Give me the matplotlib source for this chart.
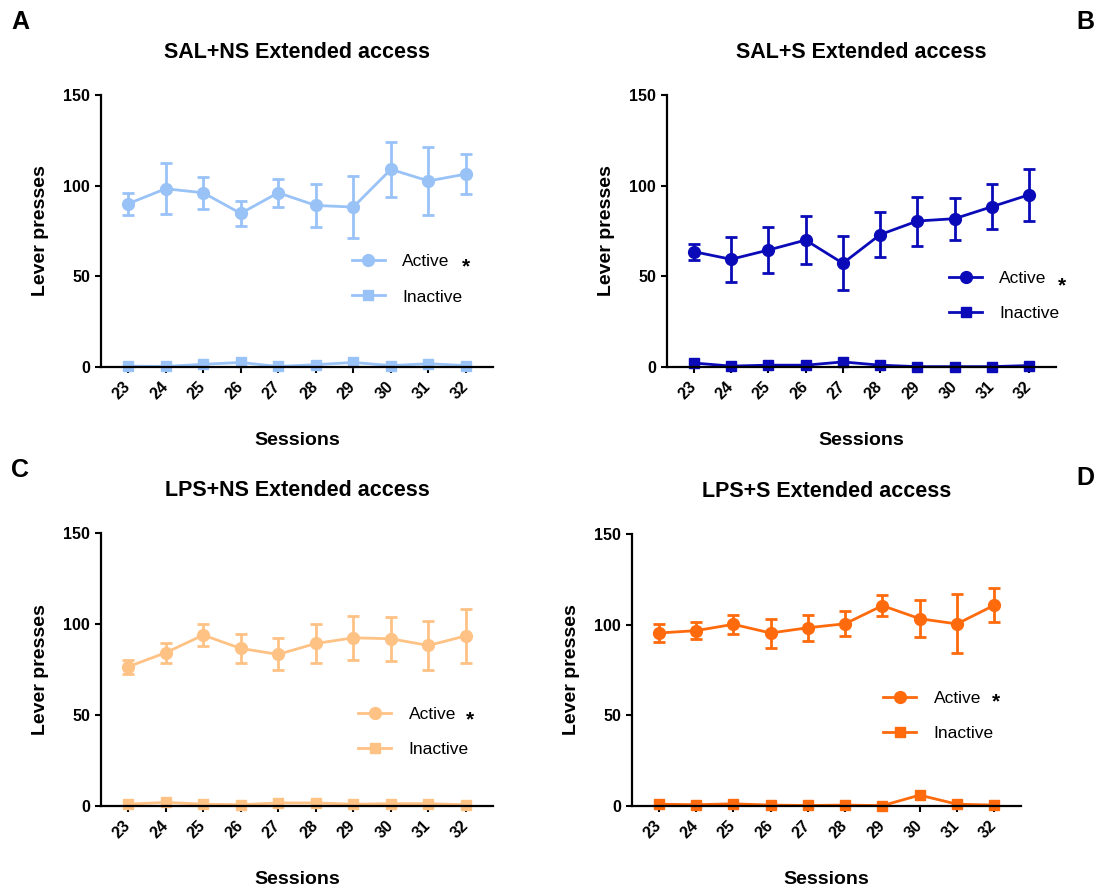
import numpy as np
import matplotlib
matplotlib.use("Agg")
import matplotlib.pyplot as plt

plt.rcParams['font.family'] = ['Liberation Sans', 'DejaVu Sans']

sessions = [23, 24, 25, 26, 27, 28, 29, 30, 31, 32]

# panel A: SAL+NS
a_active = [90, 98.3, 96.1, 84.7, 96.1, 89.1, 88.2, 109, 102.6, 106.4]
a_active_err = [6, 14, 8.7, 7, 7.6, 12, 17, 15.2, 18.7, 10.8]
a_inactive = [0.5, 0.3, 1.5, 2.5, 0.3, 1.3, 2.5, 0.8, 1.8, 0.8]

# panel B: SAL+S
b_active = [63.6, 59.4, 64.5, 70, 57.2, 73, 80.5, 81.8, 88.4, 95]
b_active_err = [4.4, 12.3, 12.5, 13.4, 15, 12.5, 13.5, 11.6, 12.4, 14.3]
b_inactive = [2.2, 0.5, 1, 1, 2.8, 1, 0.2, 0.2, 0.2, 0.8]

# panel C: LPS+NS
c_active = [76.5, 84.2, 93.9, 86.6, 83.3, 89.3, 92.4, 91.9, 88.2, 93.5]
c_active_err = [3.8, 5.5, 6, 7.9, 8.8, 10.7, 12, 12, 13.6, 15]
c_inactive = [1, 2, 1, 0.7, 1.7, 1.7, 1, 1.3, 1.3, 0.7]

# panel D: LPS+S
d_active = [95.4, 96.7, 100.2, 95.4, 98.3, 100.5, 110.5, 103.3, 100.4, 110.7]
d_active_err = [5, 4.5, 5.1, 8, 7.3, 7, 5.9, 10.2, 16.3, 9.5]
d_inactive = [1, 0.7, 1.2, 0.5, 0.3, 0.5, 0.2, 6, 1, 0.5]

titles = ['SAL+NS Extended access', 'SAL+S Extended access',
          'LPS+NS Extended access', 'LPS+S Extended access']
letters = ['A', 'B', 'C', 'D']
colors = ['#99c2f7', '#0a0ab8', '#ffc285', '#ff6a0d']

W, H = 1104, 892
fig = plt.figure(figsize=(W / 100, H / 100), dpi=100)


def px_axes(x0, x1, y0, y1):
    return fig.add_axes([x0 / W, 1 - y1 / H, (x1 - x0) / W, (y1 - y0) / H])


axes = [px_axes(101, 493, 95, 367), px_axes(667, 1056, 95, 367),
        px_axes(101, 493, 533, 806), px_axes(632, 1021, 534, 806)]

data = [(a_active, a_active_err, a_inactive), (b_active, b_active_err, b_inactive),
        (c_active, c_active_err, c_inactive), (d_active, d_active_err, d_inactive)]

# legend spots (axes coords): handle left x, middle y, asterisk x, asterisk y
leg_pos = [(0.64, 0.322, 0.93, 0.369), (0.725, 0.262, 1.015, 0.299),
           (0.656, 0.272, 0.94, 0.315), (0.646, 0.332, 0.936, 0.382)]

for ax, (act, err, inact), col, title, lp in zip(axes, data, colors, titles, leg_pos):
    eb = ax.errorbar(sessions, act, yerr=err, color=col, marker='o', markersize=8.5,
                     lw=2, elinewidth=2, capsize=4.5, capthick=2, clip_on=False, zorder=3)
    inl, = ax.plot(sessions, inact, color=col, marker='s', markersize=7.5, lw=2,
                   clip_on=False, zorder=2)
    ax.set_xlim(22.28, 32.72)
    ax.set_ylim(0, 150)
    ax.set_yticks([0, 50, 100, 150])
    ax.set_xticks(sessions)
    ax.set_xticklabels([str(s) for s in sessions], rotation=45, ha='right',
                       va='center', rotation_mode='anchor')
    for sp in ['top', 'right']:
        ax.spines[sp].set_visible(False)
    for sp in ['left', 'bottom']:
        ax.spines[sp].set_linewidth(1.6)
    ax.tick_params(width=1.5, length=4.5, labelsize=11.5, direction='out')
    ax.tick_params(axis='x', pad=8)
    for lab in ax.get_xticklabels() + ax.get_yticklabels():
        lab.set_fontweight('bold')
    ax.set_ylabel('Lever presses', fontsize=14, fontweight='bold', labelpad=10)
    ax.set_xlabel('Sessions', fontsize=14, fontweight='bold', labelpad=21)
    ax.set_title(title, fontsize=15.5, fontweight='bold', pad=27)
    ax.legend([eb.lines[0], inl], ['Active', 'Inactive'], loc='center left',
              bbox_to_anchor=(lp[0], lp[1]), frameon=False, fontsize=12.5,
              handlelength=1.9, handletextpad=1.0, labelspacing=1.15,
              borderpad=0, borderaxespad=0)
    ax.text(lp[2], lp[3], '*', transform=ax.transAxes, fontsize=15,
            fontweight='bold', ha='center', va='center')

fig.text(20 / W, 1 - 22 / H, 'A', fontsize=18, fontweight='bold', ha='center', va='center')
fig.text(1085 / W, 1 - 22 / H, 'B', fontsize=18, fontweight='bold', ha='center', va='center')
fig.text(20 / W, 1 - 470 / H, 'C', fontsize=18, fontweight='bold', ha='center', va='center')
fig.text(1085 / W, 1 - 478 / H, 'D', fontsize=18, fontweight='bold', ha='center', va='center')

fig.savefig('out.png', dpi=100)
